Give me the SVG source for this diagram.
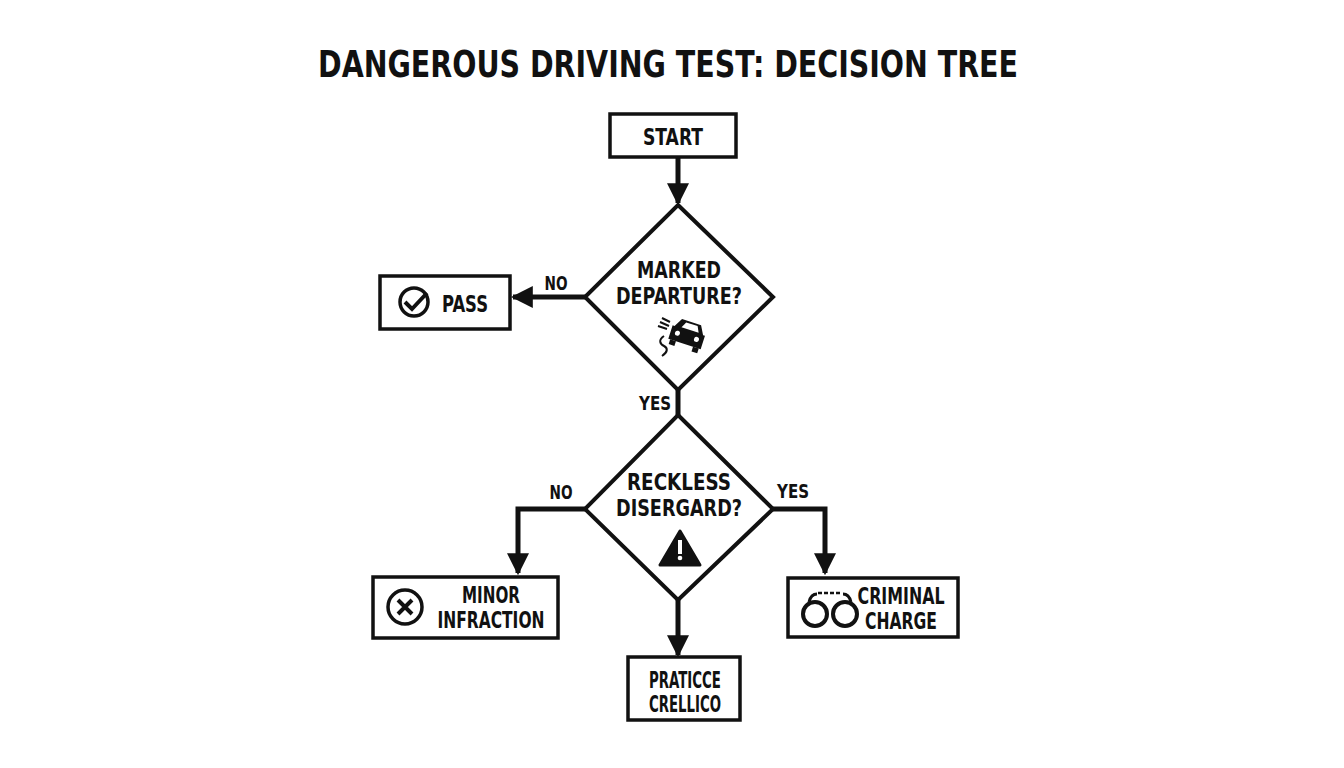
<svg xmlns="http://www.w3.org/2000/svg" width="1344" height="768" viewBox="0 0 1344 768">
<style>
text{font-family:"DejaVu Sans Condensed","DejaVu Sans",sans-serif;font-weight:bold;fill:#111;text-anchor:middle}
.box{fill:#fff;stroke:#111;stroke-width:3.5}
.dia{fill:#fff;stroke:#111;stroke-width:4}
.con{fill:none;stroke:#111;stroke-width:5}
.lbl{font-size:19px}
.nt{font-size:23px}
</style>
<defs>
<marker id="ah" viewBox="0 0 10 10" refX="9" refY="5" markerWidth="4.4" markerHeight="4.4" markerUnits="strokeWidth" orient="auto"><path d="M0,0L10,5L0,10Z" fill="#111"/></marker>
</defs>
<rect width="1344" height="768" fill="#fff"/>
<text x="668" y="77" font-size="38" textLength="700" lengthAdjust="spacingAndGlyphs">DANGEROUS DRIVING TEST: DECISION TREE</text>
<g id="connectors">
<path class="con" d="M678,157V203" marker-end="url(#ah)"/>
<path class="con" d="M585,297H513" marker-end="url(#ah)"/>
<path class="con" d="M678,390V415"/>
<path class="con" d="M585,509H518V573" marker-end="url(#ah)"/>
<path class="con" d="M773,509H825V573" marker-end="url(#ah)"/>
<path class="con" d="M678,600V655" marker-end="url(#ah)"/>
<text class="lbl" x="556" y="290" textLength="23" lengthAdjust="spacingAndGlyphs">NO</text>
<text class="lbl" x="655" y="410" textLength="32" lengthAdjust="spacingAndGlyphs">YES</text>
<text class="lbl" x="561" y="499" textLength="23" lengthAdjust="spacingAndGlyphs">NO</text>
<text class="lbl" x="793" y="498" textLength="32" lengthAdjust="spacingAndGlyphs">YES</text>
</g>
<g id="start"><rect class="box" x="610" y="114" width="126" height="43"/><text class="nt" x="673" y="145" textLength="60" lengthAdjust="spacingAndGlyphs">START</text></g>
<g id="q1"><path class="dia" d="M678,205L773,297L678,390L585,297Z"/>
<text class="nt" x="679" y="278" textLength="84" lengthAdjust="spacingAndGlyphs">MARKED</text><text class="nt" x="679" y="304" textLength="126" lengthAdjust="spacingAndGlyphs">DEPARTURE?</text>
<g transform="translate(648,312)"><path d="M14,6l8,4M12,10l9,4M10,14l9,3" stroke="#111" stroke-width="2" fill="none"/><path d="M16,24c-6,4 -4,8 0,10c4,2 4,6 -2,10" stroke="#111" stroke-width="2" fill="none"/><g transform="rotate(18 38 24)"><path d="M24,18l5,-9h20l5,9h2v14h-34v-14z" fill="#111"/><rect x="24" y="32" width="6" height="5" fill="#111"/><rect x="48" y="32" width="6" height="5" fill="#111"/><path d="M31,17l3,-6h12l3,6z" fill="#fff"/><circle cx="29" cy="24" r="2.5" fill="#fff"/><circle cx="49" cy="24" r="2.5" fill="#fff"/></g></g>
</g>
<g id="pass"><rect class="box" x="380" y="276" width="130" height="53"/>
<circle cx="414" cy="302" r="14" fill="none" stroke="#111" stroke-width="3.5"/><path d="M405,302l7,7l15,-16" fill="none" stroke="#111" stroke-width="4"/>
<text class="nt" x="465" y="312" textLength="46" lengthAdjust="spacingAndGlyphs">PASS</text></g>
<g id="q2"><path class="dia" d="M678,415L773,509L678,600L585,509Z"/>
<text class="nt" x="679" y="490" textLength="104" lengthAdjust="spacingAndGlyphs">RECKLESS</text><text class="nt" x="679" y="516" textLength="126" lengthAdjust="spacingAndGlyphs">DISERGARD?</text>
<path d="M680,531L700,565H660Z" fill="#111" stroke="#111" stroke-width="3" stroke-linejoin="round"/><rect x="678" y="540" width="4" height="14" fill="#fff"/><circle cx="680" cy="558" r="2.3" fill="#fff"/>
</g>
<g id="minor"><rect class="box" x="373" y="577" width="185" height="61"/>
<circle cx="405" cy="607" r="17" fill="none" stroke="#111" stroke-width="3.5"/><path d="M398,600l14,14M412,600l-14,14" stroke="#111" stroke-width="4"/>
<text class="nt" x="491" y="603" textLength="58" lengthAdjust="spacingAndGlyphs">MINOR</text><text class="nt" x="491" y="628" textLength="107" lengthAdjust="spacingAndGlyphs">INFRACTION</text></g>
<g id="criminal"><rect class="box" x="788" y="578" width="170" height="59"/>
<circle cx="815" cy="614" r="12" fill="none" stroke="#111" stroke-width="4"/><circle cx="845" cy="614" r="12" fill="none" stroke="#111" stroke-width="4"/>
<path d="M809,602q2,-8 8,-8M851,602q-2,-8 -8,-8" fill="none" stroke="#111" stroke-width="3"/>
<path d="M818,593h24" fill="none" stroke="#111" stroke-width="2.5" stroke-dasharray="4,2"/>
<text class="nt" x="901" y="604" textLength="87" lengthAdjust="spacingAndGlyphs">CRIMINAL</text><text class="nt" x="901" y="629" textLength="72" lengthAdjust="spacingAndGlyphs">CHARGE</text></g>
<g id="practice"><rect class="box" x="628" y="657" width="112" height="63"/>
<text class="nt" x="685" y="688" font-size="21" textLength="72" lengthAdjust="spacingAndGlyphs">PRATICCE</text><text class="nt" x="685" y="712" font-size="21" textLength="72" lengthAdjust="spacingAndGlyphs">CRELLICO</text></g>
</svg>
